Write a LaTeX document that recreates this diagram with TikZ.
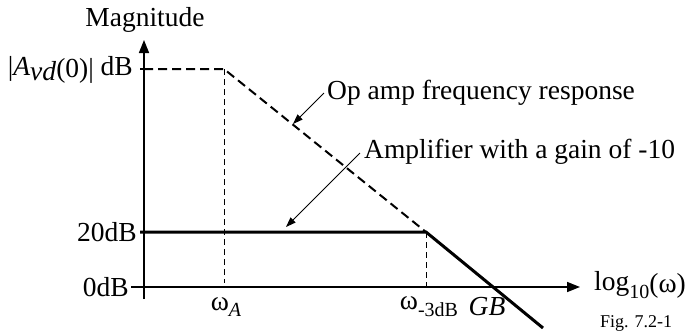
\documentclass[tikz,border=0pt]{standalone}
\usepackage{fontspec}
\setmainfont{Liberation Serif}
\usetikzlibrary{arrows.meta}
\begin{document}
\begin{tikzpicture}[x=1pt,y=-1pt,
  lbl/.style={inner sep=0pt,font=\fontsize{27.5}{30}\selectfont},
  smalllbl/.style={inner sep=0pt,font=\fontsize{18}{20}\selectfont},
  axis/.style={line width=1.6pt,-{Triangle[length=13pt,width=10pt]}},
  opamp/.style={line width=2pt,dash pattern=on 9pt off 5pt},
  amp/.style={line width=3pt},
  guide/.style={line width=0.9pt,dash pattern=on 6pt off 4pt},
  leader/.style={line width=0.9pt,-{Triangle[length=10pt,width=7pt]}}]
\useasboundingbox (0,0) rectangle (688,330);
% coordinates
\coordinate (ybot) at (144,299);
\coordinate (ytop) at (144,40);
\coordinate (xstart) at (131,287);
\coordinate (xend) at (580,287);
\coordinate (t0) at (140,69);
\coordinate (a0) at (144,69);
\coordinate (pA) at (224,69);
\coordinate (pAb) at (224,283);
\coordinate (t20) at (140,232);
\coordinate (k) at (426,232);
\coordinate (kb) at (426,286);
\coordinate (gend) at (543,328);
\coordinate (tip1) at (293,124);
\coordinate (from1) at (324,93);
\coordinate (tip2) at (286,227);
\coordinate (from2) at (360,153);
% axes
\draw[axis] (ybot) -- (ytop);
\draw[axis] (xstart) -- (xend);
% op amp response
\draw[line width=1.6pt] (t0) -- (a0);
\draw[opamp] (a0) -- (pA) -- (k);
% amplifier response
\draw[amp] (t20) -- (k) -- (gend);
% guides
\draw[guide] (pA) -- (pAb);
\draw[guide] (k) -- (kb);
% labels
\node[lbl] (mag) at (145,20) {Magnitude};
\node[lbl,anchor=east] (avd) at (133,70) {|\textit{A}\raisebox{-0.15em}{\textit{vd}}\raisebox{-0.05em}{(0)|} dB};
\node[lbl,anchor=east] (db20) at (137,232) {20dB};
\node[lbl,anchor=east] (db0) at (129,287) {0dB};
\node[lbl] (wa) at (226,307) {ω\raisebox{-0.25em}{\fontsize{20}{22}\selectfont\textit{A}}};
\node[lbl] (w3) at (429,307) {ω\raisebox{-0.25em}{\fontsize{20}{22}\selectfont -3dB}};
\node[lbl] (gb) at (487,307) {\textit{GB}};
\node[lbl,anchor=west] (logw) at (594,285) {log\raisebox{-0.3em}{\fontsize{20}{22}\selectfont 10}\raisebox{-0.1em}{(ω)}};
\node[smalllbl,anchor=west] (fig) at (600,323) {Fig. 7.2-1};
\node[lbl,anchor=west] (oplbl) at (327,93) {Op amp frequency response};
\node[lbl,anchor=west] (amplbl) at (364,152) {Amplifier with a gain of -10};
% leaders
\draw[leader] (from1) -- (tip1);
\draw[leader] (from2) -- (tip2);
\end{tikzpicture}
\end{document}
